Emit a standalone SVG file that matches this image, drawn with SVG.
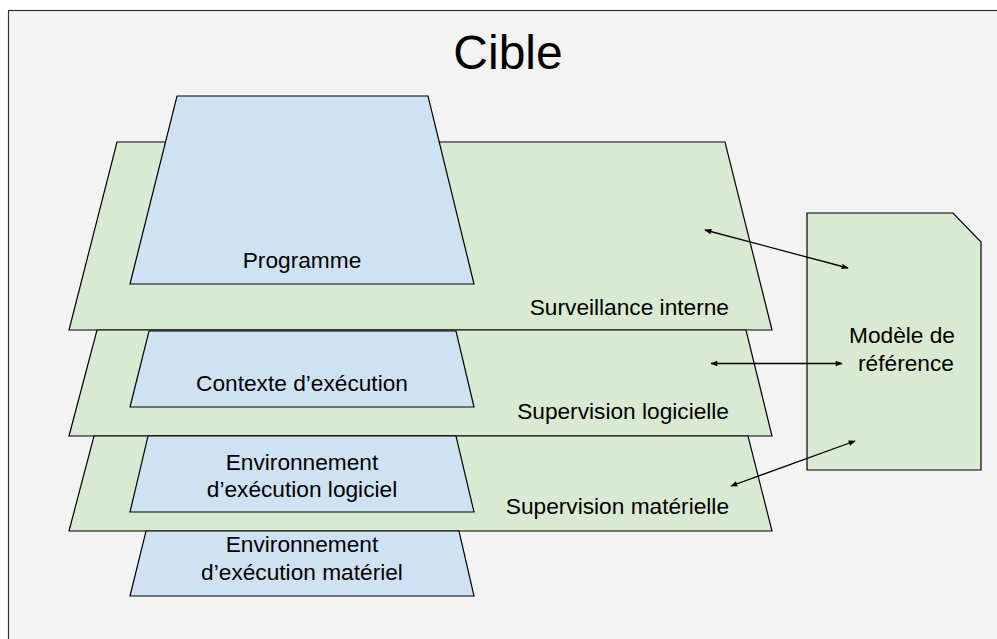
<svg xmlns="http://www.w3.org/2000/svg" width="997" height="639" viewBox="0 0 997 639">
<defs>
<style>
.green{fill:#d9ead3;stroke:#000;stroke-width:1.2}
.blue{fill:#cfe2f3;stroke:#000;stroke-width:1.2}
.t{font-family:"Liberation Sans",Arial,sans-serif;font-size:22.7px;fill:#000}
.c{text-anchor:middle}
.r{text-anchor:end}
.arr{stroke:#000;stroke-width:1.3;fill:none;marker-start:url(#ah);marker-end:url(#ah)}
</style>
<marker id="ah" viewBox="0 0 10 10" refX="9" refY="5" markerWidth="9" markerHeight="7" markerUnits="userSpaceOnUse" orient="auto-start-reverse">
<path d="M0,1 L10,5 L0,9 Z" fill="#000"/>
</marker>
</defs>
<g id="frame">
<rect x="8.5" y="10.5" width="1000" height="640" fill="#f3f3f3" stroke="#333" stroke-width="1.2"/>
<text x="508" y="69" class="c" style="font-family:'Liberation Sans',Arial,sans-serif;font-size:48px">Cible</text>
</g>
<g id="surveillance-interne">
<polygon class="green" points="117,142 725,142 772,330 69,330"/>
<text x="729" y="315" class="t r">Surveillance interne</text>
</g>
<g id="programme">
<polygon class="blue" points="177,96 428,96 474,284 130,284"/>
<text x="302" y="268" class="t c">Programme</text>
</g>
<g id="supervision-logicielle">
<polygon class="green" points="97,330 746,330 772,436 69,436"/>
<text x="729" y="419" class="t r">Supervision logicielle</text>
</g>
<g id="contexte">
<polygon class="blue" points="149,331 456,331 474,407 130,407"/>
<text x="302" y="391" class="t c">Contexte d’exécution</text>
</g>
<g id="supervision-materielle">
<polygon class="green" points="94,436 748,436 772,531 69,531"/>
<text x="729" y="514" class="t r">Supervision matérielle</text>
</g>
<g id="env-logiciel">
<polygon class="blue" points="148,436 456,436 474,512 130,512"/>
<text x="302" y="470" class="t c">Environnement</text>
<text x="302" y="497" class="t c">d’exécution logiciel</text>
</g>
<g id="env-materiel">
<polygon class="blue" points="146,531 459,531 474,596 130,596"/>
<text x="302" y="552" class="t c">Environnement</text>
<text x="302" y="580" class="t c">d’exécution matériel</text>
</g>
<g id="modele">
<polygon class="green" points="807,213 953,213 981,242 981,470 807,470"/>
<text x="902" y="343" class="t c">Modèle de</text>
<text x="906" y="371" class="t c">référence</text>
</g>
<g id="connectors">
<line class="arr" x1="705" y1="230" x2="848" y2="268"/>
<line class="arr" x1="711" y1="363.5" x2="842" y2="363.5"/>
<line class="arr" x1="731" y1="486" x2="855" y2="441"/>
</g>
</svg>
